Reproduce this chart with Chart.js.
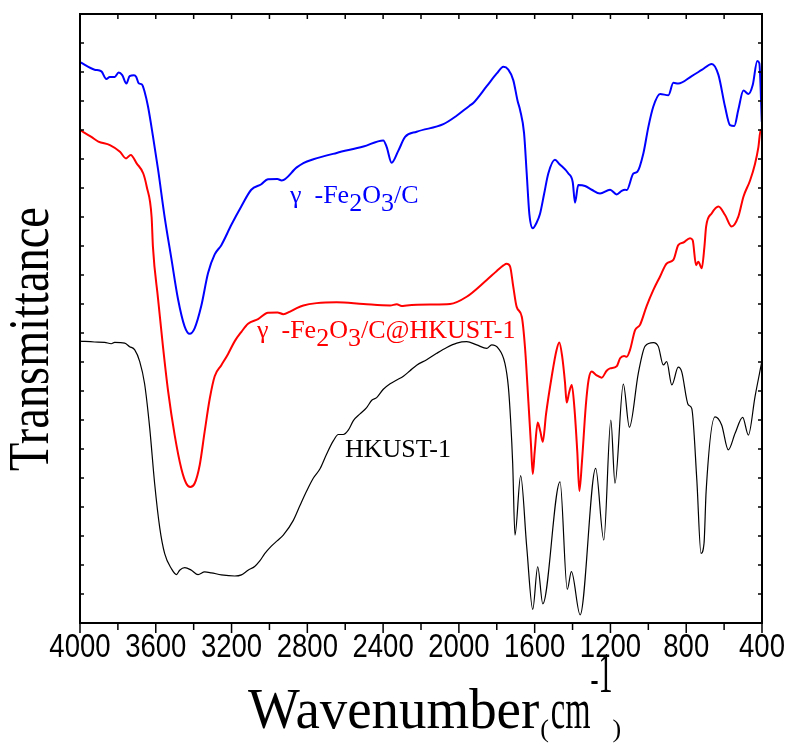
<!DOCTYPE html>
<html><head><meta charset="utf-8">
<script src="https://cdn.jsdelivr.net/npm/chart.js@4.4.1/dist/chart.umd.min.js"></script>
<style>html,body{margin:0;padding:0;background:#fff}</style>
</head><body>
<canvas id="c" width="793" height="744"></canvas>
<script>
// ---- data (wavenumber in cm^-1, transmittance in arbitrary units) ----
const xTicks = [4000,3600,3200,2800,2400,2000,1600,1200,800,400];

const fe2o3C_wn = [4000,3923,3887,3861,3843,3817,3796,3777,3755,3738,3715,3703,3690,3673,3659,3641,3615,3588,3553,3518,3483,3448,3421,3395,3360,3324,3289,3254,3201,3148,3096,3043,3008,2958,2935,2856,2821,2768,2645,2504,2399,2381,2355,2320,2284,2223,2082,2012,1945,1924,1853,1800,1765,1739,1713,1690,1677,1656,1642,1628,1610,1590,1572,1550,1528,1493,1470,1422,1399,1387,1370,1334,1299,1255,1202,1167,1141,1123,1114,1079,1058,1026,1000,974,938,894,868,842,771,718,665,630,595,569,546,525,498,472,449,425,414,401];
const fe2o3C_T  = [19.34,19.08,19.02,18.76,18.83,18.83,18.98,18.89,18.60,18.86,18.89,18.83,18.61,18.57,18.32,17.81,16.79,15.64,13.99,12.58,11.18,10.23,9.97,10.16,10.93,12.07,12.71,13.03,13.73,14.37,14.94,15.13,15.30,15.31,15.26,15.71,15.86,15.99,16.21,16.43,16.64,16.41,15.87,16.28,16.76,16.94,17.20,17.49,17.83,17.93,18.51,18.95,19.18,19.08,18.72,18.00,17.69,16.89,15.50,14.10,13.61,13.80,14.10,14.80,15.50,15.97,15.83,15.50,15.20,14.49,15.10,15.07,14.94,14.81,14.94,14.78,14.90,14.94,14.93,15.50,15.56,16.20,17.10,17.80,18.24,18.20,18.63,18.60,18.86,19.07,19.28,18.90,17.80,17.17,17.14,17.70,18.36,18.24,18.55,19.38,19.30,17.29];

const composite_wn = [4000,3940,3903,3842,3789,3757,3732,3701,3666,3648,3622,3615,3588,3562,3535,3500,3465,3439,3418,3395,3368,3342,3315,3289,3254,3219,3183,3148,3113,3060,3008,2958,2927,2891,2856,2821,2751,2645,2504,2363,2328,2302,2275,2152,2047,1959,1853,1800,1765,1748,1730,1713,1695,1668,1651,1633,1619,1610,1600,1584,1570,1557,1540,1510,1485,1470,1455,1440,1431,1418,1404,1390,1375,1364,1350,1330,1315,1299,1275,1246,1220,1202,1167,1149,1128,1114,1097,1070,1044,1009,974,938,903,868,842,815,780,766,748,736,718,704,695,665,630,595,560,525,498,463,437,419,407,400];
const composite_T  = [17.00,16.76,16.60,16.48,16.25,16.02,16.14,15.85,15.50,15.05,14.00,12.97,11.18,9.53,8.00,6.47,5.32,4.81,4.69,4.81,5.45,6.60,7.74,8.51,8.89,9.27,9.72,10.04,10.32,10.48,10.70,10.71,10.65,10.74,10.86,10.95,11.03,11.06,11.00,10.95,10.99,10.93,10.95,10.98,11.00,11.25,11.83,12.14,12.33,12.39,12.30,11.60,10.90,10.56,9.50,7.62,6.09,5.14,5.90,6.91,6.60,6.25,7.20,8.50,9.40,9.67,9.20,8.30,7.60,7.95,8.21,7.40,5.90,4.55,5.60,7.50,8.40,8.67,8.55,8.46,8.70,8.78,8.85,9.13,9.21,9.18,9.41,10.10,10.28,10.93,11.48,11.95,12.40,12.52,13.03,13.12,13.27,13.20,12.34,12.46,12.23,12.97,13.67,14.13,14.36,14.07,13.67,14.01,14.70,15.26,15.83,16.41,17.00,17.00];

const hkust_wn = [4000,3923,3870,3835,3817,3764,3738,3711,3685,3659,3632,3606,3579,3553,3518,3491,3474,3447,3412,3377,3342,3307,3254,3183,3148,3113,3078,3051,3025,2990,2958,2927,2874,2839,2803,2768,2733,2698,2663,2636,2610,2583,2557,2522,2487,2460,2434,2399,2363,2328,2293,2258,2223,2170,2117,2064,2011,1959,1906,1853,1827,1792,1757,1739,1727,1716,1704,1674,1642,1610,1584,1557,1466,1428,1406,1360,1278,1235,1198,1176,1132,1100,1053,1017,973,947,921,903,876,842,824,789,771,744,722,706,695,648,613,578,542,502,472,437,401];
const hkust_T  = [9.72,9.69,9.68,9.63,9.68,9.65,9.53,9.42,9.02,8.25,6.72,4.81,3.28,2.39,1.88,1.67,1.82,1.91,1.82,1.67,1.76,1.73,1.66,1.62,1.66,1.82,1.95,2.14,2.39,2.65,2.84,3.03,3.54,4.05,4.56,5.00,5.32,5.83,6.28,6.50,6.50,6.66,6.98,7.21,7.43,7.68,7.77,8.06,8.25,8.38,8.51,8.70,8.89,9.08,9.30,9.50,9.65,9.70,9.59,9.47,9.59,9.47,8.95,8.15,7.00,5.50,3.03,5.08,2.63,0.47,1.94,0.66,4.87,1.16,1.77,0.28,5.33,2.86,7.00,4.82,8.24,6.75,8.61,9.55,9.67,9.53,8.90,9.01,8.21,8.82,8.67,7.52,7.40,4.93,2.40,2.75,4.53,7.11,6.83,5.97,6.54,7.09,6.48,7.80,9.01];

const seriesNames = ['γ -Fe2O3/C', 'γ -Fe2O3/C@HKUST-1', 'HKUST-1'];
const seriesColors = ['#0000ff', '#ff0000', '#000000'];

function pts(xs, ys){ return xs.map((x,i)=>({x:x, y:ys[i]})); }

const SERIF = "'Liberation Serif','Times New Roman',serif";
const SANS = "'Liberation Sans',Arial,sans-serif";

const framePlugin = {
  id:'frame',
  afterDraw(chart){
    const ctx = chart.ctx, a = chart.chartArea, x = chart.scales.x, y = chart.scales.y;
    ctx.save();
    ctx.strokeStyle = '#000';
    ctx.lineWidth = 2;
    ctx.strokeRect(a.left, a.top, a.right - a.left, a.bottom - a.top);
    ctx.lineWidth = 1.5;
    ctx.beginPath();
    for (let v = 400; v <= 4000; v += 200) {
      const px = x.getPixelForValue(v);
      const major = (v % 400) === 0;
      ctx.moveTo(px, a.bottom); ctx.lineTo(px, a.bottom + (major ? 10 : 7));
      ctx.moveTo(px, a.top); ctx.lineTo(px, a.top + 5);
    }
    for (let v = 1; v < 21; v++) {
      const py = y.getPixelForValue(v);
      ctx.moveTo(a.left, py); ctx.lineTo(a.left + 4, py);
      ctx.moveTo(a.right, py); ctx.lineTo(a.right - 4, py);
    }
    ctx.stroke();
    // x tick labels (condensed)
    ctx.fillStyle = '#000';
    ctx.font = "34px " + SANS;
    ctx.textBaseline = 'alphabetic';
    ctx.textAlign = 'center';
    for (const v of xTicks) {
      const px = x.getPixelForValue(v);
      ctx.save();
      ctx.translate(px, 657);
      ctx.scale(0.81, 1);
      ctx.fillText(String(v), 0, 0);
      ctx.restore();
    }
    ctx.restore();
  }
};

function drawParts(ctx, parts, x, y, color){
  let cx = x;
  ctx.fillStyle = color;
  ctx.textBaseline = 'alphabetic';
  ctx.textAlign = 'left';
  for (const p of parts){
    const sx = p.sx || 1;
    ctx.font = p.f;
    ctx.save();
    ctx.translate(cx, y + (p.dy || 0));
    ctx.scale(sx, 1);
    ctx.fillText(p.t, 0, 0);
    ctx.restore();
    cx += ctx.measureText(p.t).width * sx + (p.gap || 0);
  }
}

const textPlugin = {
  id:'texts',
  afterDraw(chart){
    const ctx = chart.ctx;
    ctx.save();
    const lf = "26px " + SERIF;
    // series labels
    drawParts(ctx, [{t:'γ  -Fe',f:lf},{t:'2',f:lf,dy:8},{t:'O',f:lf},{t:'3',f:lf,dy:8},{t:'/C',f:lf}], 290, 203, seriesColors[0]);
    drawParts(ctx, [{t:'γ  -Fe',f:lf},{t:'2',f:lf,dy:8},{t:'O',f:lf},{t:'3',f:lf,dy:8},{t:'/C@HKUST-1',f:lf}], 257, 338, seriesColors[1]);
    drawParts(ctx, [{t:'HKUST-1',f:lf}], 345, 457, seriesColors[2]);
    // y title
    ctx.save();
    ctx.translate(48, 339);
    ctx.rotate(-Math.PI/2);
    ctx.font = "58px " + SERIF;
    ctx.fillStyle = '#000';
    ctx.textAlign = 'center';
    ctx.textBaseline = 'alphabetic';
    ctx.scale(0.8, 1);
    ctx.fillText('Transmittance', 0, 0);
    ctx.restore();
    // x title
    const big = "56px " + SERIF, small = "26px " + SERIF;
    drawParts(ctx, [
      {t:'Wavenumber', f:big, sx:0.98, gap:1},
      {t:'(', f:small, dy:9, gap:2},
      {t:'cm', f:big, sx:0.58},
      {t:'-', f:"40px " + SERIF, dy:-36, sx:0.6},
      {t:'1', f:big, dy:-36, sx:0.5},
      {t:')', f:small, dy:9}
    ], 248, 728, '#000');
    ctx.restore();
  }
};

new Chart(document.getElementById('c'), {
  type:'line',
  data:{
    datasets:[
      {label:seriesNames[0], data:pts(fe2o3C_wn, fe2o3C_T), borderColor:seriesColors[0], borderWidth:2},
      {label:seriesNames[1], data:pts(composite_wn, composite_T), borderColor:seriesColors[1], borderWidth:2},
      {label:seriesNames[2], data:pts(hkust_wn, hkust_T), borderColor:seriesColors[2], borderWidth:1.2}
    ]
  },
  options:{
    responsive:false,
    animation:false,
    devicePixelRatio:1,
    layout:{padding:{left:80, right:31, top:14, bottom:0}},
    plugins:{legend:{display:false}, tooltip:{enabled:false}},
    elements:{
      point:{radius:0},
      line:{cubicInterpolationMode:'monotone', fill:false, borderJoinStyle:'round', borderCapStyle:'round'}
    },
    scales:{
      x:{
        type:'linear', reverse:true, min:400, max:4000,
        grid:{display:false, drawTicks:false},
        border:{display:false},
        afterBuildTicks(s){ s.ticks = xTicks.map(v=>({value:v})); },
        afterFit(s){ s.height = 121; },
        ticks:{display:false}
      },
      y:{display:false, min:0, max:21}
    }
  },
  plugins:[framePlugin, textPlugin]
});
</script>
</body></html>
